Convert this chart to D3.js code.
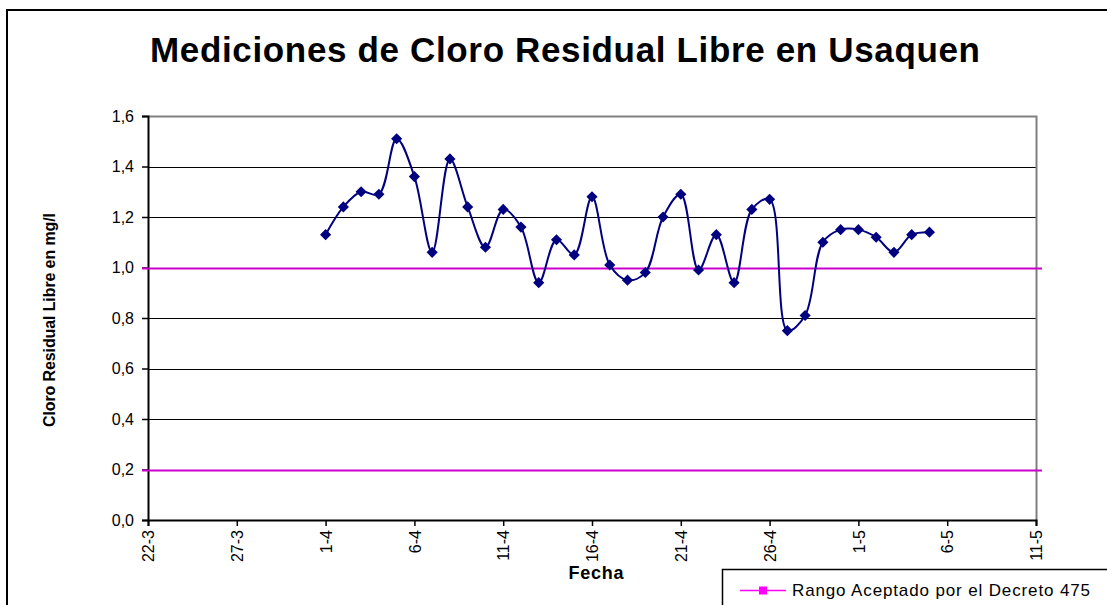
<!DOCTYPE html>
<meta charset="UTF-8">
<head>
<script src="https://d3js.org/d3.v7.min.js"></script>
</head>
<style>
body { margin: 0; background: #fff; }
text { font-family: Arial, "Liberation Sans", sans-serif; }
.grid line { stroke: #000; stroke-width: 1px; }
</style>
<body>
<div id="chart"></div>
<script>

// fechas de las mediciones (dia-mes)
var fechas = ["1-4","2-4","3-4","4-4","5-4","6-4","7-4","8-4","9-4","10-4",
              "11-4","12-4","13-4","14-4","15-4","16-4","17-4","18-4","19-4","20-4",
              "21-4","22-4","23-4","24-4","25-4","26-4","27-4","28-4","29-4","30-4",
              "1-5","2-5","3-5","4-5","5-5"];

// cloro residual libre en mg/l
var cloro = [1.13,1.24,1.30,1.29,1.51,1.36,1.06,1.43,1.24,1.08,
             1.23,1.16,0.94,1.11,1.05,1.28,1.01,0.95,0.98,1.20,
             1.29,0.99,1.13,0.94,1.23,1.27,0.75,0.81,1.10,1.15,
             1.15,1.12,1.06,1.13,1.14];

// rango aceptado por el decreto 475
var rango = [1.0, 0.2];

// etiquetas de los ejes
var etiquetasX = ["22-3","27-3","1-4","6-4","11-4","16-4","21-4","26-4","1-5","6-5","11-5"];
var etiquetasY = [0, 0.2, 0.4, 0.6, 0.8, 1.0, 1.2, 1.4, 1.6];

var parse = function(s) { return d3.timeParse("%d-%m-%Y")(s + "-2008"); };

var W = 1107, H = 605;
// area de trazado (ojo: "top" es global del navegador, no usarlo)
var pLeft = 148, pRight = 1036, pTop = 116, pBottom = 520;

var svg = d3.select("#chart").append("svg")
    .attr("width", W)
    .attr("height", H);

// marco exterior del grafico
svg.append("rect")
    .attr("x", 7).attr("y", 10)
    .attr("width", 1300).attr("height", 800)
    .attr("fill", "#fff")
    .attr("stroke", "#000")
    .attr("stroke-width", 2);

var x = d3.scaleTime()
    .domain([parse(etiquetasX[0]), parse(etiquetasX[etiquetasX.length - 1])])
    .range([pLeft, pRight]);

var y = d3.scaleLinear()
    .domain([0, 1.6])
    .range([pBottom, pTop]);

var fmt = function(d) { return d3.format(".1f")(d).replace(".", ","); };

// lineas de la grilla
svg.append("g")
    .attr("class", "grid")
  .selectAll("line")
    .data(etiquetasY.slice(1, -1))
  .enter().append("line")
    .attr("x1", pLeft).attr("x2", pRight)
    .attr("y1", function(d) { return Math.round(y(d)) + 0.5; })
    .attr("y2", function(d) { return Math.round(y(d)) + 0.5; });

// borde del area de trazado (gris arriba y derecha)
svg.append("path")
    .attr("d", "M" + pLeft + "," + (pTop + 0.5) + "H" + (pRight + 0.5) + "V" + pBottom)
    .attr("fill", "none")
    .attr("stroke", "#808080")
    .attr("stroke-width", 2);

// eje y
var yAxis = svg.append("g")
    .attr("transform", "translate(" + pLeft + ",0)")
    .call(d3.axisLeft(y).tickValues(etiquetasY).tickFormat(fmt).tickSize(6).tickPadding(8));

// eje x
var xAxis = svg.append("g")
    .attr("transform", "translate(0," + pBottom + ")")
    .call(d3.axisBottom(x).tickValues(etiquetasX.map(parse))
          .tickFormat(function(d, i) { return etiquetasX[i]; }).tickSize(6));

[yAxis, xAxis].forEach(function(a) {
  a.select(".domain").attr("stroke", "#000").attr("stroke-width", 2);
  a.selectAll(".tick line").attr("stroke", "#000").attr("stroke-width", 1.5);
  a.selectAll("text").attr("fill", "#000").style("font-size", "16px")
    .style("font-family", "Arial, 'Liberation Sans', sans-serif");
});

xAxis.selectAll("text")
    .attr("transform", "rotate(-90)")
    .attr("text-anchor", "end")
    .attr("x", -10)
    .attr("y", 0)
    .attr("dy", "0.35em");

// lineas del rango aceptado
svg.selectAll("line.rango")
    .data(rango)
  .enter().append("line")
    .attr("class", "rango")
    .attr("x1", pLeft - 6).attr("x2", pRight + 6)
    .attr("y1", function(d) { return Math.round(y(d)) + 0.5; })
    .attr("y2", function(d) { return Math.round(y(d)) + 0.5; })
    .attr("stroke", "#CC00CC")
    .attr("stroke-width", 2);

// serie de cloro suavizada
var puntos = fechas.map(function(f, i) { return {fecha: parse(f), valor: cloro[i]}; });

var linea = d3.line()
    .x(function(d) { return x(d.fecha); })
    .y(function(d) { return y(d.valor); })
    .curve(d3.curveCatmullRom.alpha(0.5));

svg.append("path")
    .datum(puntos)
    .attr("d", linea)
    .attr("fill", "none")
    .attr("stroke", "#000080")
    .attr("stroke-width", 2);

svg.selectAll("path.marca")
    .data(puntos)
  .enter().append("path")
    .attr("class", "marca")
    .attr("d", d3.symbol(d3.symbolSquare, 62))
    .attr("transform", function(d) {
      return "translate(" + x(d.fecha) + "," + y(d.valor) + ") rotate(45)";
    })
    .attr("fill", "#000080");

// titulo
svg.append("text")
    .attr("x", 565).attr("y", 62)
    .attr("text-anchor", "middle")
    .attr("textLength", 830)
    .attr("lengthAdjust", "spacing")
    .style("font-size", "35px")
    .style("font-weight", "bold")
    .text("Mediciones de Cloro Residual Libre en Usaquen");

// titulos de los ejes
svg.append("text")
    .attr("transform", "translate(55,320) rotate(-90)")
    .attr("text-anchor", "middle")
    .attr("textLength", 214)
    .attr("lengthAdjust", "spacing")
    .style("font-size", "16px")
    .style("font-weight", "bold")
    .text("Cloro Residual Libre en mg/l");

svg.append("text")
    .attr("x", 596).attr("y", 579)
    .attr("text-anchor", "middle")
    .attr("textLength", 55)
    .attr("lengthAdjust", "spacing")
    .style("font-size", "18px")
    .style("font-weight", "bold")
    .text("Fecha");

// leyenda
var ley = svg.append("g");
ley.append("rect")
    .attr("x", 722.5).attr("y", 569.5)
    .attr("width", 500).attr("height", 100)
    .attr("fill", "#fff")
    .attr("stroke", "#000")
    .attr("stroke-width", 1.5);
ley.append("line")
    .attr("x1", 740).attr("x2", 786)
    .attr("y1", 590.5).attr("y2", 590.5)
    .attr("stroke", "#FF00FF")
    .attr("stroke-width", 1.5);
ley.append("rect")
    .attr("x", 759).attr("y", 586.5)
    .attr("width", 8).attr("height", 8)
    .attr("fill", "#FF00FF");
ley.append("text")
    .attr("x", 792).attr("y", 596)
    .attr("textLength", 298)
    .attr("lengthAdjust", "spacing")
    .style("font-size", "17px")
    .text("Rango Aceptado por el Decreto 475");

</script>
</body>
